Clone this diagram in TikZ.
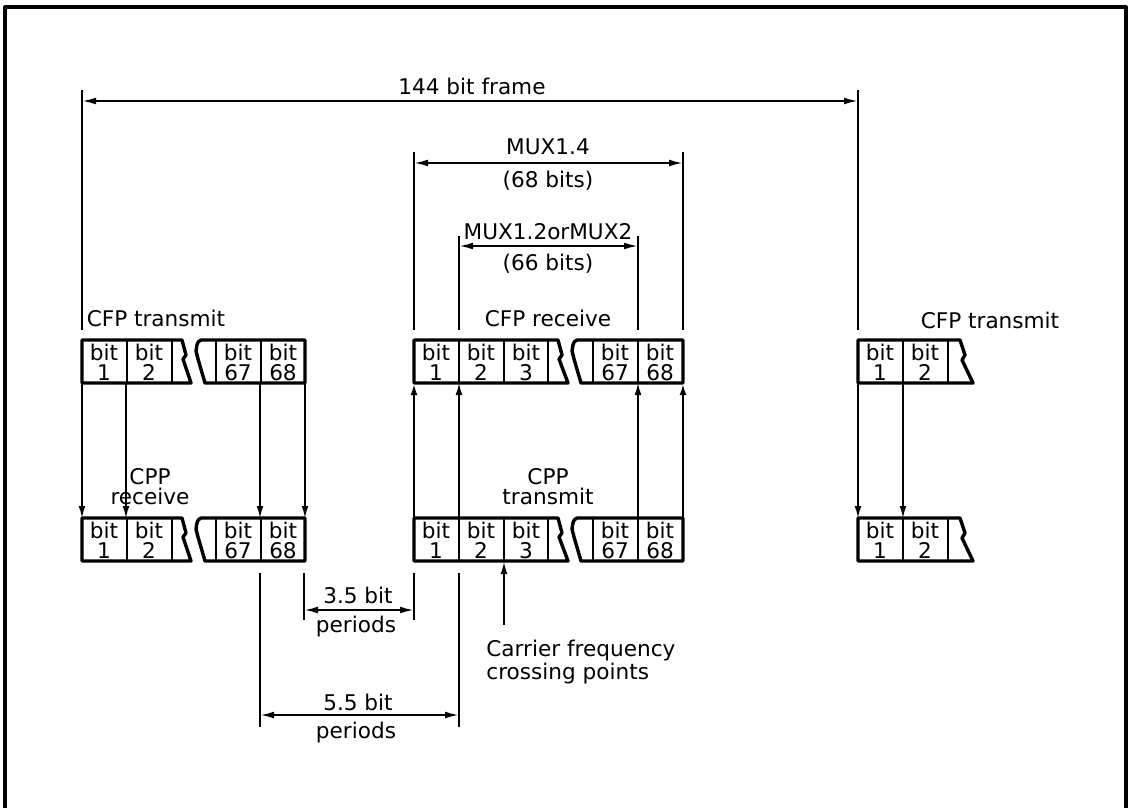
\documentclass[tikz,border=0pt]{standalone}
\usepackage{fontspec}
\newfontfamily\cadfont{DejaVu Sans}
\usetikzlibrary{arrows.meta}
\begin{document}
\begin{tikzpicture}[x=0.5pt, y=-0.5pt, line join=round,
    outline/.style={line width=1.7pt},
    divider/.style={line width=0.75pt},
    extline/.style={line width=1pt},
    dimline/.style={line width=1pt, {Latex[length=7pt,width=3.4pt]}-{Latex[length=7pt,width=3.4pt]}},
    feed/.style={line width=0.75pt, -{Latex[length=6pt,width=3.4pt]}},
    lbl/.style={font=\cadfont\fontsize{10.8}{10}\selectfont, inner sep=0pt, align=center}]
    \useasboundingbox (0,0) rectangle (1129,808);

    % sheet frame
    \draw[line width=2pt] (5,808) -- (5,7) -- (1126,7) -- (1126,808);

    % bit blocks, CFP row (t) and CPP row (b)
    \foreach \T/\s in {340/t, 518/b} {
        % left block
        \draw[outline] (82,\T) -- (182,\T) -- (186,\T+15) -- (183,\T+19) -- (191,\T+43) -- (82,\T+43) -- cycle;
        \draw[outline] (201,\T) to[out=200,in=80] (196,\T+11) -- (198,\T+19) -- (205,\T+43) -- (305,\T+43) -- (305,\T) -- cycle;
        % middle block
        \draw[outline] (414,\T) -- (558,\T) -- (562,\T+15) -- (559,\T+19) -- (568,\T+43) -- (414,\T+43) -- cycle;
        \draw[outline] (577,\T) to[out=200,in=80] (572,\T+11) -- (574,\T+19) -- (581,\T+43) -- (683,\T+43) -- (683,\T) -- cycle;
        % right block
        \draw[outline] (858,\T) -- (960,\T) -- (965,\T+15) -- (962,\T+20) -- (973,\T+43) -- (858,\T+43) -- cycle;
        \foreach \x in {127,172,216,261,459,504,548,593,638,903,948}
            \draw[divider] (\x,\T) -- (\x,\T+43);
        \foreach \cx/\n [count=\i] in {104/1,149/2,238/67,283/68,436/1,481/2,526/3,615/67,660/68,880/1,925/2}
            \node[lbl] (\s\i) at (\cx,\T+22) {bit\\\n};
    }

    % CFP -> CPP
    \foreach \x [count=\i] in {82,126,260,305,858,903} {
        \coordinate (src\i) at (\x,383);
        \coordinate (dst\i) at (\x,518);
        \draw[feed] (src\i) -- (dst\i);
    }
    % CPP -> CFP
    \foreach \x/\w [count=\i] in {414/1.3pt,459/0.75pt,638/0.75pt,683/1.3pt} {
        \coordinate (tx\i) at (\x,518);
        \coordinate (rx\i) at (\x,383);
        \draw[feed, line width=\w] (tx\i) -- (rx\i);
    }

    % block titles
    \node[lbl] (cfpL) at (156,318) {CFP transmit};
    \node[lbl] (cfpM) at (548,318) {CFP receive};
    \node[lbl] (cfpR) at (990,320) {CFP transmit};
    \node[lbl] (cppL) at (150,487) {CPP\\receive};
    \node[lbl] (cppM) at (548,487) {CPP\\transmit};

    % 144 bit frame
    \coordinate (fA) at (82,90);  \coordinate (fB) at (82,330);
    \coordinate (fC) at (858,90); \coordinate (fD) at (858,330);
    \draw[extline] (fA) -- (fB);
    \draw[extline] (fC) -- (fD);
    \coordinate (fL) at (82,101); \coordinate (fR) at (858,101);
    \draw[dimline] (fL) -- (fR);
    \node[lbl] (frame) at (472,86) {144 bit frame};

    % MUX1.4
    \coordinate (mA) at (414,152); \coordinate (mB) at (414,330);
    \coordinate (mC) at (683,152); \coordinate (mD) at (683,330);
    \draw[extline] (mA) -- (mB);
    \draw[extline] (mC) -- (mD);
    \coordinate (mL) at (414,163); \coordinate (mR) at (683,163);
    \draw[dimline] (mL) -- (mR);
    \node[lbl] (mux14) at (548,147) {MUX1.4};
    \node[lbl] (bits68) at (548,181) {(68 bits)};

    % MUX1.2 or MUX2
    \coordinate (nA) at (459,236); \coordinate (nB) at (459,330);
    \coordinate (nC) at (638,236); \coordinate (nD) at (638,330);
    \draw[extline] (nA) -- (nB);
    \draw[extline] (nC) -- (nD);
    \coordinate (nL) at (459,246); \coordinate (nR) at (638,246);
    \draw[dimline] (nL) -- (nR);
    \node[lbl] (mux12) at (548,232) {MUX1.2orMUX2};
    \node[lbl] (bits66) at (548,264) {(66 bits)};

    % 3.5 bit periods
    \coordinate (pA) at (304,573); \coordinate (pB) at (304,620);
    \coordinate (pC) at (414,573); \coordinate (pD) at (414,620);
    \draw[extline] (pA) -- (pB);
    \draw[extline] (pC) -- (pD);
    \coordinate (pL) at (304,610); \coordinate (pR) at (414,610);
    \draw[dimline] (pL) -- (pR);
    \node[lbl] (p35) at (358,595) {3.5 bit};
    \node[lbl] (p35b) at (356,627) {periods};

    % 5.5 bit periods
    \coordinate (qA) at (260,573); \coordinate (qB) at (260,727);
    \coordinate (qC) at (459,573); \coordinate (qD) at (459,727);
    \draw[extline] (qA) -- (qB);
    \draw[extline] (qC) -- (qD);
    \coordinate (qL) at (260,715); \coordinate (qR) at (459,715);
    \draw[dimline] (qL) -- (qR);
    \node[lbl] (p55) at (358,702) {5.5 bit};
    \node[lbl] (p55b) at (356,733) {periods};

    % carrier crossing
    \coordinate (cA) at (504,625); \coordinate (cB) at (504,562);
    \draw[feed] (cA) -- (cB);
    \node[lbl, align=left, anchor=north west] (carrier) at (486,640) {Carrier frequency\\crossing points};
\end{tikzpicture}
\end{document}
